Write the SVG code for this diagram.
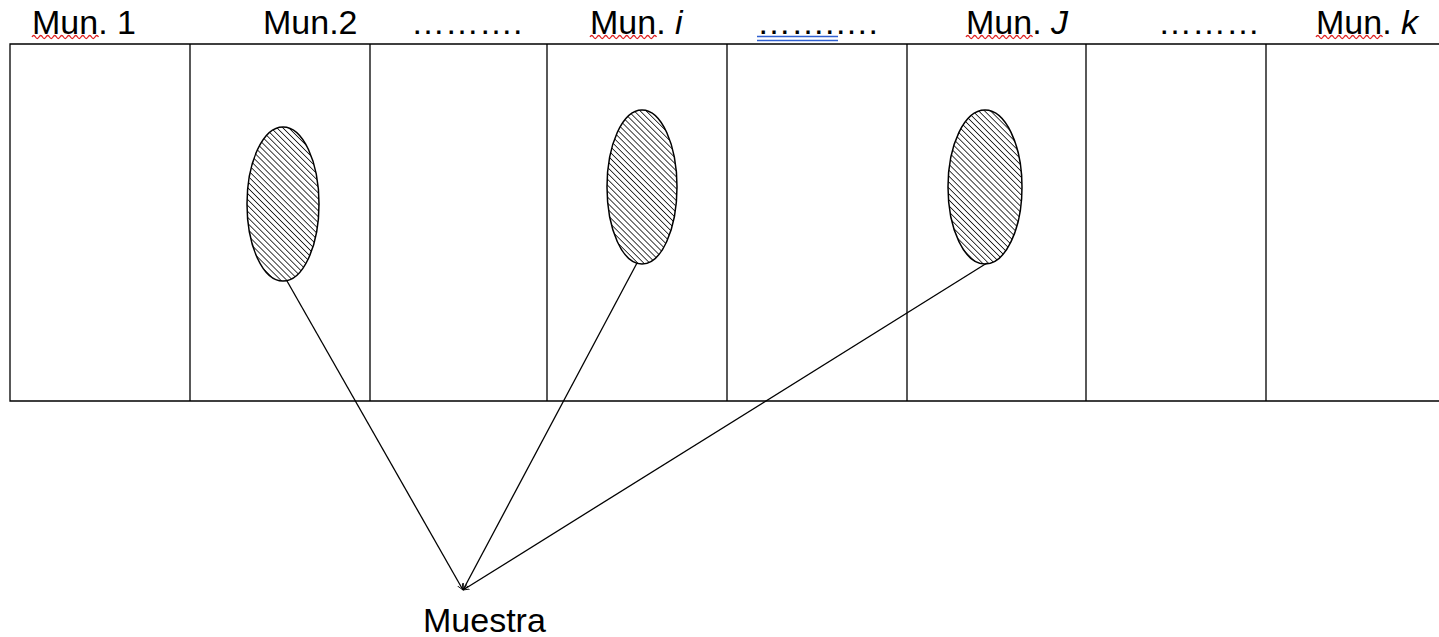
<svg xmlns="http://www.w3.org/2000/svg" width="1439" height="637" viewBox="0 0 1439 637">
<style>
.lbl{font-family:"Liberation Sans",Arial,sans-serif;font-size:34px;fill:#000}
.ln{stroke:#000;stroke-width:1.3;fill:none}
.ell{stroke:#000;stroke-width:1.5;fill:url(#hatch)}
.sq{stroke:#e02020;stroke-width:1.3;fill:none}
</style>
<defs>
<pattern id="hatch" patternUnits="userSpaceOnUse" width="4.2" height="4.2" patternTransform="rotate(-45)">
<rect width="4.2" height="4.2" fill="#fff"/>
<line x1="0" y1="0" x2="0" y2="4.2" stroke="#000" stroke-width="1.5"/>
</pattern>
<marker id="arr" viewBox="0 0 10 10" refX="9" refY="5" markerWidth="7" markerHeight="7" orient="auto-start-reverse" markerUnits="userSpaceOnUse">
<path d="M0,1 L9,5 L0,9" fill="none" stroke="#000" stroke-width="1.2"/>
</marker>
<path id="squig" d="M0,36 q1.75,-3 3.5,0 t3.5,0 t3.5,0 t3.5,0 t3.5,0 t3.5,0 t3.5,0 t3.5,0 t3.5,0 t3.5,0 t3.5,0 t3.5,0 t3.5,0 t3.5,0 t3.5,0 t3.5,0 t3.5,0 t3.5,0 t3.5,0"/>
</defs>
<rect width="1439" height="637" fill="#fff"/>
<g id="grid">
<path class="ln" d="M1445,44 H10 V401 H1445"/>
<path class="ln" d="M190,44 V401 M370,44 V401 M547,44 V401 M727,44 V401 M907,44 V401 M1086,44 V401 M1266,44 V401"/>
</g>
<g id="labels">
<text class="lbl" x="32" y="34">Mun. 1</text>
<text class="lbl" x="263" y="34">Mun.2</text>
<text class="lbl" x="411" y="34">……….</text>
<text class="lbl" x="590" y="34">Mun. <tspan font-style="italic">i</tspan></text>
<text class="lbl" x="757" y="34">…….….</text>
<text class="lbl" x="966" y="34">Mun. <tspan font-style="italic">J</tspan></text>
<text class="lbl" x="1158" y="34">………</text>
<text class="lbl" x="1316" y="34">Mun. <tspan font-style="italic">k</tspan></text>
<use href="#squig" class="sq" x="32" y="1"/>
<use href="#squig" class="sq" x="590" y="1"/>
<use href="#squig" class="sq" x="966" y="1"/>
<use href="#squig" class="sq" x="1316" y="1"/>
<path d="M757,36.5 H838 M757,40.5 H838" stroke="#3060d0" stroke-width="1.5" fill="none"/>
<text class="lbl" x="423" y="632">Muestra</text>
</g>
<g id="ellipse1"><ellipse class="ell" cx="283" cy="204" rx="36" ry="77"/></g>
<g id="ellipse2"><ellipse class="ell" cx="642" cy="187" rx="35" ry="77"/></g>
<g id="ellipse3"><ellipse class="ell" cx="985" cy="187" rx="37" ry="77"/></g>
<g id="connectors">
<line class="ln" x1="287" y1="281" x2="463" y2="590" marker-end="url(#arr)"/>
<line class="ln" x1="637" y1="263" x2="463" y2="590" marker-end="url(#arr)"/>
<line class="ln" x1="987" y1="263" x2="463" y2="590" marker-end="url(#arr)"/>
</g>
</svg>
